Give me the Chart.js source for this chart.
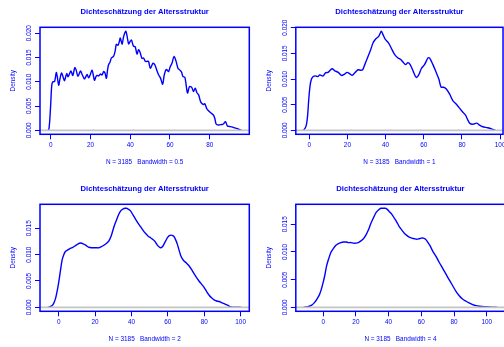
<!DOCTYPE html>
<html>
<head>
<meta charset="utf-8">
<script src="https://cdn.jsdelivr.net/npm/chart.js@4.4.1/dist/chart.umd.min.js"></script>
<style>
  html, body { margin: 0; padding: 0; background: #ffffff; width: 504px; height: 347px; overflow: hidden; }
  .panel { position: absolute; }
  canvas { display: block; }
</style>
</head>
<body>
<div class="panel" style="left:0px;top:0px"><canvas id="p1" width="256" height="177"></canvas></div>
<div class="panel" style="left:252px;top:0px"><canvas id="p2" width="256" height="177"></canvas></div>
<div class="panel" style="left:0px;top:177px"><canvas id="p3" width="256" height="177"></canvas></div>
<div class="panel" style="left:252px;top:177px"><canvas id="p4" width="256" height="177"></canvas></div>
<script>
// Kernel density estimates of the age structure (N = 3185) for four bandwidths.
const MAIN_TITLE = 'Dichteschätzung der Altersstruktur';
const N_OBS = 3185;
const BANDWIDTHS = [0.5, 1, 2, 4];

// Bandwidth 0.5
const AGE_BW05 = [-1.5, -1.0, -0.5, 0, 0.5, 1.0, 1.5, 2.0, 2.8, 3.3, 4.0, 4.6, 5.4, 6.2, 6.9, 7.5, 8.1, 8.7, 9.4, 10.2,
  11.1, 12.1, 12.8, 13.7, 14.9, 15.8, 16.9, 17.6, 18.3, 19.1, 20.0, 20.8, 21.4, 22.0, 22.7, 23.3, 24.2, 25.0, 25.8, 26.6,
  27.3, 28.0, 28.6, 29.1, 29.8, 30.5, 31.2, 31.7, 32.4, 33.0, 33.8, 34.4, 35.0, 35.9, 36.5, 37.2, 37.8, 38.4, 39.2, 39.8,
  40.6, 41.2, 41.7, 42.5, 43.4, 44.2, 45.0, 45.9, 46.7, 47.6, 48.4, 49.2, 50.1, 51.4, 52.0, 52.6, 53.5, 54.3, 55.2, 56.3,
  57.1, 58.0, 58.6, 59.3, 60.1, 61.0, 62.0, 63.0, 64.0, 65.0, 65.8, 66.5, 67.5, 68.8, 69.8, 71.0, 71.8, 72.7, 73.5, 74.4,
  75.5, 76.9, 77.5, 78.6, 79.5, 80.5, 81.9, 82.6, 83.2, 84.4, 86.0, 86.9, 87.9, 88.9, 90.0, 91.1, 92.5, 93.6, 94.8, 96.0];
const DENS_BW05 = [0, 0.0001, 0.0020, 0.0055, 0.0092, 0.0100, 0.0100, 0.0101, 0.0119, 0.0110, 0.0093, 0.0105, 0.0118, 0.0110, 0.0102, 0.0110, 0.0117, 0.0110, 0.0116, 0.0122,
  0.0113, 0.0129, 0.0124, 0.0111, 0.0122, 0.0115, 0.0106, 0.0110, 0.0115, 0.0108, 0.0116, 0.0124, 0.0114, 0.0103, 0.0110, 0.0113, 0.0112, 0.0116, 0.0114, 0.0121,
  0.0118, 0.0107, 0.0125, 0.0135, 0.0140, 0.0149, 0.0151, 0.0153, 0.0163, 0.0177, 0.0175, 0.0181, 0.0190, 0.0177, 0.0190, 0.0200, 0.0204, 0.0194, 0.0178, 0.0182,
  0.0186, 0.0178, 0.0173, 0.0172, 0.0157, 0.0166, 0.0160, 0.0148, 0.0149, 0.0142, 0.0142, 0.0142, 0.0128, 0.0138, 0.0137, 0.0133, 0.0122, 0.0114, 0.0108, 0.0095,
  0.0114, 0.0125, 0.0124, 0.0121, 0.0131, 0.0138, 0.0152, 0.0143, 0.0128, 0.0124, 0.0120, 0.0111, 0.0109, 0.0077, 0.0090, 0.0088, 0.0080, 0.0087, 0.0078, 0.0073,
  0.0058, 0.0053, 0.0055, 0.0044, 0.0040, 0.0036, 0.0031, 0.0024, 0.0013, 0.0011, 0.0012, 0.0013, 0.0018, 0.0009, 0.0008, 0.0007, 0.0005, 0.0004, 0.0002, 0];

// Bandwidth 1
const AGE_BW1 = [-3.0, -2.6, -2.0, -1.4, -0.8, -0.2, 0.5, 1.2, 2.1, 3.3, 4.0, 4.7, 5.5, 6.2, 7.3, 8.5, 9.9, 11.0, 12.0, 13.4,
  15.2, 16.9, 18.3, 19.9, 21.3, 22.5, 23.9, 25.6, 27.0, 28.0, 29.1, 30.5, 32.2, 33.4, 34.8, 36.4, 37.8, 38.7, 39.9, 41.6,
  43.0, 44.7, 46.5, 47.9, 49.1, 50.5, 51.7, 52.9, 54.7, 56.1, 57.5, 58.7, 60.4, 62.2, 63.0, 64.8, 66.5, 67.9, 69.1, 70.4,
  71.7, 73.5, 75.2, 77.3, 79.6, 81.8, 83.1, 84.3, 86.0, 87.8, 89.2, 90.9, 93.5, 96.1, 97.5];
const DENS_BW1 = [0, 0.0002, 0.0005, 0.0012, 0.0030, 0.0062, 0.0088, 0.0100, 0.0105, 0.0106, 0.0105, 0.0105, 0.0108, 0.0107, 0.0106, 0.0112, 0.0113, 0.0117, 0.0120, 0.0116,
  0.0113, 0.0107, 0.0109, 0.0113, 0.0110, 0.0107, 0.0112, 0.0118, 0.0117, 0.0118, 0.0128, 0.0141, 0.0157, 0.0170, 0.0178, 0.0183, 0.0193, 0.0186, 0.0177, 0.0170,
  0.0160, 0.0148, 0.0141, 0.0138, 0.0133, 0.0128, 0.0132, 0.0128, 0.0113, 0.0103, 0.0109, 0.0120, 0.0128, 0.0141, 0.0141, 0.0128, 0.0113, 0.0100, 0.0084, 0.0084,
  0.0081, 0.0071, 0.0058, 0.0050, 0.0039, 0.0030, 0.0020, 0.0013, 0.0012, 0.0014, 0.0010, 0.0007, 0.0005, 0.0002, 0];

// Bandwidth 2
const AGE_BW2 = [-6.0, -5.0, -3.7, -2.8, -1.8, -1.0, 0, 1.0, 1.9, 2.8, 3.7, 5.0, 6.4, 7.8, 9.2, 10.5, 11.9, 13.8, 15.2, 16.6,
  18.0, 19.4, 20.8, 22.1, 23.5, 24.9, 26.2, 27.6, 29.0, 30.3, 31.7, 33.1, 34.3, 35.5, 36.5, 37.3, 38.4, 39.5, 40.9, 42.3,
  43.6, 45.0, 46.4, 47.8, 49.2, 50.5, 51.7, 52.7, 53.5, 54.2, 55.1, 56.0, 57.0, 57.9, 58.8, 59.7, 60.8, 61.9, 62.7, 63.4,
  64.3, 65.2, 66.2, 67.1, 68.0, 68.9, 70.2, 71.6, 73.0, 74.4, 75.7, 77.1, 78.5, 79.9, 81.3, 82.7, 84.0, 85.4, 86.8, 88.2,
  89.5, 90.9, 92.8, 94.6, 97.0, 100.5];
const DENS_BW2 = [0, 0.0001, 0.0003, 0.0007, 0.0016, 0.0028, 0.0047, 0.0070, 0.0090, 0.0100, 0.0106, 0.0109, 0.0112, 0.0114, 0.0117, 0.0120, 0.0122, 0.0120, 0.0117, 0.0114,
  0.0113, 0.0113, 0.0113, 0.0113, 0.0115, 0.0118, 0.0121, 0.0126, 0.0137, 0.0152, 0.0165, 0.0177, 0.0184, 0.0187, 0.0188, 0.0188, 0.0186, 0.0183, 0.0175, 0.0167,
  0.0160, 0.0153, 0.0146, 0.0140, 0.0135, 0.0132, 0.0129, 0.0126, 0.0122, 0.0118, 0.0115, 0.0113, 0.0115, 0.0120, 0.0126, 0.0132, 0.0136, 0.0137, 0.0136, 0.0134,
  0.0128, 0.0120, 0.0108, 0.0098, 0.0092, 0.0088, 0.0084, 0.0079, 0.0072, 0.0064, 0.0057, 0.0050, 0.0044, 0.0038, 0.0030, 0.0023, 0.0018, 0.0014, 0.0012, 0.0011,
  0.0009, 0.0007, 0.0004, 0.0001, 0.00003, 0];

// Bandwidth 4
const AGE_BW4 = [-12.0, -10.5, -8.5, -7.0, -5.5, -4.0, -2.4, -1.2, 0, 1.0, 2.1, 3.4, 4.7, 6.2, 7.8, 9.3, 10.8, 12.4, 13.9, 15.5,
  17.0, 18.5, 20.0, 21.5, 23.1, 24.6, 26.2, 27.7, 29.2, 30.8, 32.3, 33.8, 35.3, 36.6, 38.0, 39.2, 40.4, 42.0, 43.5, 45.0,
  46.5, 48.0, 49.6, 51.1, 52.6, 54.2, 55.7, 57.2, 58.7, 60.0, 61.2, 62.6, 63.9, 65.4, 66.9, 69.0, 71.0, 73.0, 75.1, 77.2,
  79.2, 81.2, 83.2, 85.2, 87.3, 89.3, 91.4, 93.5, 95.5, 99.5, 103.0, 106.5];
const DENS_BW4 = [0, 0.00005, 0.0002, 0.0004, 0.0008, 0.0014, 0.0022, 0.0032, 0.0045, 0.0058, 0.0075, 0.0088, 0.0099, 0.0106, 0.0112, 0.0115, 0.0117, 0.0118, 0.0118, 0.0117,
  0.0117, 0.0116, 0.0116, 0.0117, 0.0120, 0.0124, 0.0131, 0.0140, 0.0152, 0.0162, 0.0171, 0.0176, 0.0179, 0.0179, 0.0179, 0.0177, 0.0173, 0.0168, 0.0161, 0.0154,
  0.0146, 0.0140, 0.0134, 0.0130, 0.0127, 0.0125, 0.0124, 0.0123, 0.0124, 0.0125, 0.0125, 0.0123, 0.0118, 0.0111, 0.0102, 0.0092, 0.0081, 0.0071, 0.0060, 0.0049,
  0.0039, 0.0029, 0.0021, 0.0015, 0.0011, 0.0008, 0.0005, 0.0003, 0.0002, 0.0001, 0.00003, 0];

// Axis tick values
const X_TICKS_BW05 = [0, 20, 40, 60, 80];
const X_TICKS = [0, 20, 40, 60, 80, 100];
const Y_TICKS_TOP = [0, 0.005, 0.010, 0.015, 0.020];
const Y_TICKS_BOTTOM = [0, 0.005, 0.010, 0.015];

const BLUE = '#0000ff';
const GREY = '#c4c4c4';
const FONT = '"Liberation Sans", Arial, Helvetica, sans-serif';
const BASE_PX = 6.4;
const X_AXIS_H = 20;

// Annotations drawn around each plot region: frame, title, sub-caption, y label, rotated y tick labels.
const frameAndText = {
  id: 'frameAndText',
  afterDraw(chart, args, opts) {
    const { ctx, chartArea: a } = chart;
    const cx = (a.left + a.right) / 2;
    ctx.save();
    ctx.strokeStyle = BLUE;
    ctx.lineWidth = 1.5;
    ctx.strokeRect(a.left, a.top, a.right - a.left, a.bottom - a.top);

    ctx.fillStyle = BLUE;
    ctx.textAlign = 'center';
    ctx.textBaseline = 'middle';
    ctx.font = 'bold ' + (BASE_PX * 1.2) + 'px ' + FONT;
    ctx.fillText(opts.title, cx, a.top - 15.6);

    ctx.font = BASE_PX + 'px ' + FONT;
    ctx.fillText(opts.sub, cx, a.bottom + 27.6);

    const ys = chart.scales.y;
    ctx.save();
    ctx.translate(a.left - 26.7, (a.top + a.bottom) / 2);
    ctx.rotate(-Math.PI / 2);
    ctx.fillText('Density', 0, 0);
    ctx.restore();

    ys.ticks.forEach(t => {
      const py = ys.getPixelForValue(t.value);
      ctx.save();
      ctx.translate(a.left - 10.8, py);
      ctx.rotate(-Math.PI / 2);
      ctx.fillText(t.value.toFixed(3), 0, 0);
      ctx.restore();
    });
    ctx.restore();
  }
};

function makePanel(id, ages, dens, bw, xTicks, yTicks, pad) {
  const peak = Math.max(...dens);
  const span = ages[ages.length - 1] - ages[0];
  const xMin = ages[0] - 0.04 * span;
  const xMax = ages[ages.length - 1] + 0.04 * span;
  const curve = ages.map((x, i) => ({ x: x, y: dens[i] }));
  const zero = [{ x: xMin, y: 0 }, { x: xMax, y: 0 }];

  return new Chart(document.getElementById(id), {
    type: 'line',
    data: {
      datasets: [
        { data: zero, borderColor: GREY, borderWidth: 1.6, pointRadius: 0, tension: 0 },
        { data: curve, borderColor: BLUE, borderWidth: 1.4, pointRadius: 0, tension: 0.3 }
      ]
    },
    options: {
      responsive: false,
      animation: false,
      devicePixelRatio: 1,
      events: [],
      layout: { padding: pad },
      plugins: {
        legend: { display: false },
        tooltip: { enabled: false },
        title: { display: false },
        frameAndText: { title: MAIN_TITLE, sub: 'N = ' + N_OBS + '   Bandwidth = ' + bw }
      },
      scales: {
        x: {
          type: 'linear',
          min: xMin,
          max: xMax,
          afterBuildTicks: s => { s.ticks = xTicks.filter(v => v >= xMin && v <= xMax).map(v => ({ value: v })); },
          afterFit: s => { s.height = X_AXIS_H; },
          border: { display: false },
          grid: { drawOnChartArea: false, drawTicks: true, tickLength: 5, color: BLUE, lineWidth: 1 },
          ticks: {
            color: BLUE, font: { family: FONT, size: BASE_PX }, padding: 2.5,
            autoSkip: false, maxRotation: 0, minRotation: 0,
            callback: v => String(v)
          }
        },
        y: {
          type: 'linear',
          min: -0.04 * peak,
          max: 1.04 * peak,
          afterBuildTicks: s => { s.ticks = yTicks.map(v => ({ value: v })); },
          afterFit: s => { s.width = 0; },
          border: { display: false },
          grid: { drawOnChartArea: false, drawTicks: true, tickLength: 5, color: BLUE, lineWidth: 1 },
          ticks: { display: false }
        }
      }
    },
    plugins: [frameAndText]
  });
}

const PAD_LEFT_COL = { left: 40, right: 6.7, top: 27.3, bottom: 42.7 - X_AXIS_H };
const PAD_RIGHT_COL = { left: 43.8, right: 2.9, top: 27.3, bottom: 42.7 - X_AXIS_H };

makePanel('p1', AGE_BW05, DENS_BW05, BANDWIDTHS[0], X_TICKS_BW05, Y_TICKS_TOP, PAD_LEFT_COL);
makePanel('p2', AGE_BW1, DENS_BW1, BANDWIDTHS[1], X_TICKS, Y_TICKS_TOP, PAD_RIGHT_COL);
makePanel('p3', AGE_BW2, DENS_BW2, BANDWIDTHS[2], X_TICKS, Y_TICKS_BOTTOM, PAD_LEFT_COL);
makePanel('p4', AGE_BW4, DENS_BW4, BANDWIDTHS[3], X_TICKS, Y_TICKS_BOTTOM, PAD_RIGHT_COL);
</script>
</body>
</html>
